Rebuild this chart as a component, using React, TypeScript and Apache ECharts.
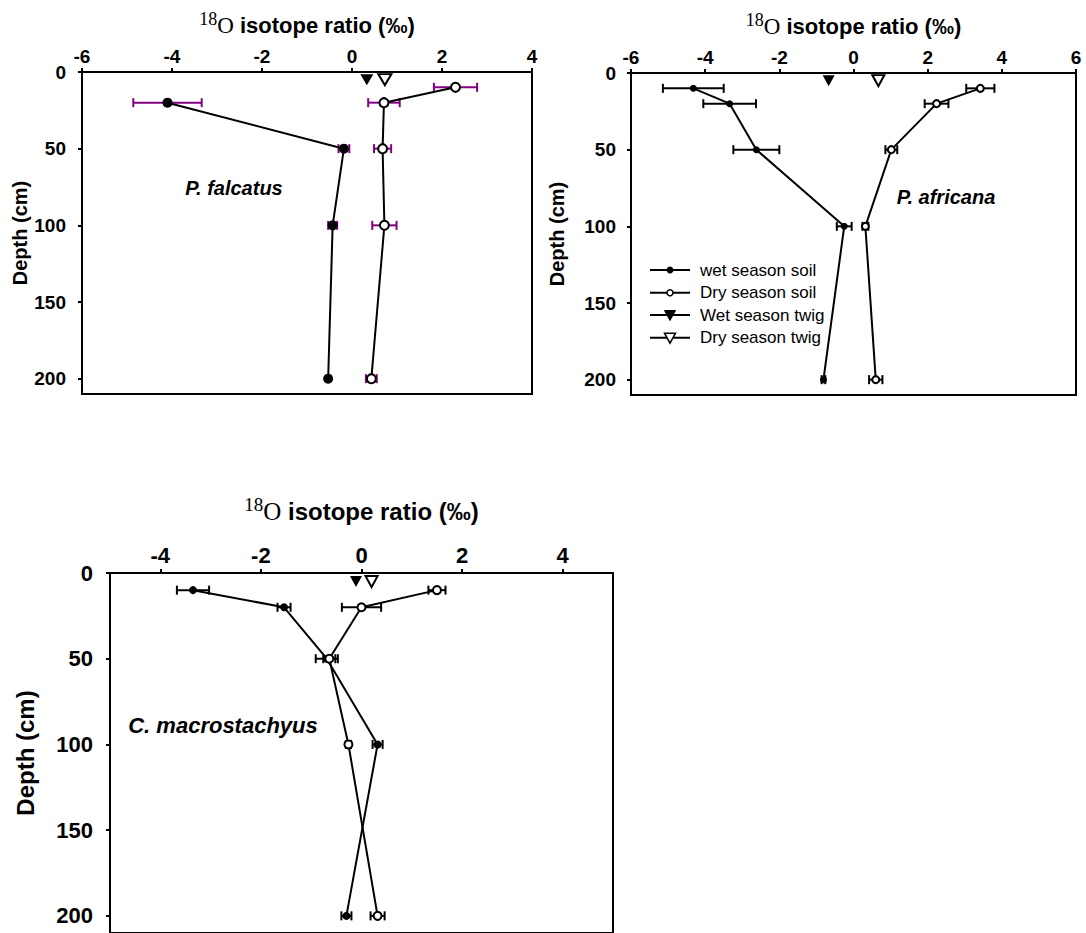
import { useEffect, useRef } from 'react';
import * as echarts from 'echarts';

// Sampling depths (cm) and the depth at which twig values are plotted
const soilDepths = [10, 20, 50, 100, 200];
const twigDepth = 5;
const depthTicks = [0, 50, 100, 150, 200];

// P. falcatus (no wet-season soil sample at 10 cm)
const falcatusWetSoil = [null, -4.1, -0.18, -0.43, -0.53];
const falcatusWetSoilErr = [null, 0.76, 0.12, 0.1, 0];
const falcatusDrySoil = [2.3, 0.71, 0.68, 0.72, 0.43];
const falcatusDrySoilErr = [0.48, 0.35, 0.19, 0.27, 0.12];
const falcatusWetTwig = 0.33;
const falcatusDryTwig = 0.73;
const falcatusTicks = [-6, -4, -2, 0, 2, 4];

// P. africana
const africanaWetSoil = [-4.32, -3.34, -2.62, -0.25, -0.81];
const africanaWetSoilErr = [0.82, 0.71, 0.62, 0.2, 0.05];
const africanaDrySoil = [3.42, 2.24, 1.02, 0.32, 0.6];
const africanaDrySoilErr = [0.38, 0.32, 0.16, 0.08, 0.18];
const africanaWetTwig = -0.67;
const africanaDryTwig = 0.67;
const africanaTicks = [-6, -4, -2, 0, 2, 4, 6];

// C. macrostachyus
const macroWetSoil = [-3.35, -1.54, -0.69, 0.32, -0.3];
const macroWetSoilErr = [0.32, 0.13, 0.22, 0.1, 0.1];
const macroDrySoil = [1.5, 0.0, -0.64, -0.26, 0.32];
const macroDrySoilErr = [0.17, 0.39, 0.12, 0.05, 0.14];
const macroWetTwig = -0.11;
const macroDryTwig = 0.2;
const macroTicks = [-4, -2, 0, 2, 4];

const legendLabels = ['wet season soil', 'Dry season soil', 'Wet season twig', 'Dry season twig'];

const SANS = '"Liberation Sans", Arial, sans-serif';
const SERIF = '"Liberation Serif", "Times New Roman", serif';

type Panel = {
  species: string;
  grid: { left: number; top: number; width: number; height: number };
  xMin: number;
  xMax: number;
  xTicks: number[];
  wet: (number | null)[];
  wetErr: (number | null)[];
  dry: number[];
  dryErr: number[];
  wetTwig: number;
  dryTwig: number;
  errColor: string;
  wetSize: number;
  drySize: number;
  twigSize: number[];
  tickFont: number;
  nameFont: number;
  titleFont: number;
  titleGap: number;
  depthGap: number;
  labelMargin: number;
  xLabelMargin: number;
  speciesFont: number;
  yMax: number;
};

const panels: Panel[] = [
  {
    species: 'P. falcatus',
    grid: { left: 82, top: 72, width: 450, height: 322 },
    xMin: -6, xMax: 4, xTicks: falcatusTicks,
    wet: falcatusWetSoil, wetErr: falcatusWetSoilErr,
    dry: falcatusDrySoil, dryErr: falcatusDrySoilErr,
    wetTwig: falcatusWetTwig, dryTwig: falcatusDryTwig,
    errColor: '#800080', wetSize: 10, drySize: 9, twigSize: [13, 11],
    tickFont: 19, nameFont: 20, titleFont: 22, titleGap: 32, depthGap: 50,
    labelMargin: 16, xLabelMargin: 6, speciesFont: 20, yMax: 210,
  },
  {
    species: 'P. africana',
    grid: { left: 631, top: 73, width: 445, height: 322 },
    xMin: -6, xMax: 6, xTicks: africanaTicks,
    wet: africanaWetSoil, wetErr: africanaWetSoilErr,
    dry: africanaDrySoil, dryErr: africanaDrySoilErr,
    wetTwig: africanaWetTwig, dryTwig: africanaDryTwig,
    errColor: '#000', wetSize: 7, drySize: 7, twigSize: [12, 11],
    tickFont: 19, nameFont: 20, titleFont: 22, titleGap: 32, depthGap: 64,
    labelMargin: 15, xLabelMargin: 6, speciesFont: 20, yMax: 210,
  },
  {
    species: 'C. macrostachyus',
    grid: { left: 110, top: 573, width: 503, height: 362 },
    xMin: -5, xMax: 5, xTicks: macroTicks,
    wet: macroWetSoil, wetErr: macroWetSoilErr,
    dry: macroDrySoil, dryErr: macroDrySoilErr,
    wetTwig: macroWetTwig, dryTwig: macroDryTwig,
    errColor: '#000', wetSize: 8, drySize: 8, twigSize: [12, 11],
    tickFont: 22, nameFont: 24, titleFont: 24, titleGap: 46, depthGap: 73,
    labelMargin: 17, xLabelMargin: 7, speciesFont: 22, yMax: 210,
  },
];

const speciesLabelPos = [
  { x: 234, y: 188 },
  { x: 946, y: 197 },
  { x: 223, y: 725 },
];

function errorBarSeries(idx: number, means: (number | null)[], errs: (number | null)[], color: string) {
  const data: number[][] = [];
  soilDepths.forEach((d, i) => {
    const m = means[i];
    const e = errs[i];
    if (m == null || e == null || e <= 0) return;
    data.push([m - e, m + e, d]);
  });
  return {
    type: 'custom',
    xAxisIndex: idx,
    yAxisIndex: idx,
    z: 1,
    silent: true,
    encode: { x: [0, 1], y: 2 },
    data,
    renderItem: (_params: any, api: any) => {
      const lo = api.coord([api.value(0), api.value(2)]);
      const hi = api.coord([api.value(1), api.value(2)]);
      const h = 4.5;
      const style = { stroke: color, lineWidth: 2 };
      return {
        type: 'group',
        children: [
          { type: 'line', shape: { x1: lo[0], y1: lo[1], x2: hi[0], y2: hi[1] }, style },
          { type: 'line', shape: { x1: lo[0], y1: lo[1] - h, x2: lo[0], y2: lo[1] + h }, style },
          { type: 'line', shape: { x1: hi[0], y1: hi[1] - h, x2: hi[0], y2: hi[1] + h }, style },
        ],
      };
    },
  };
}

function profile(values: (number | null)[]) {
  const pts: number[][] = [];
  soilDepths.forEach((d, i) => {
    const v = values[i];
    if (v != null) pts.push([v, d]);
  });
  return pts;
}

function buildOption() {
  const grid: any[] = [];
  const xAxis: any[] = [];
  const yAxis: any[] = [];
  const series: any[] = [];

  panels.forEach((p, idx) => {
    grid.push({ ...p.grid, show: true, borderColor: '#000', borderWidth: 2, backgroundColor: 'transparent' });
    xAxis.push({
      gridIndex: idx,
      type: 'value',
      position: 'top',
      min: p.xMin,
      max: p.xMax,
      axisLine: { show: true, onZero: false, lineStyle: { color: '#000', width: 2 } },
      axisTick: { show: true, inside: false, length: 4, customValues: p.xTicks, lineStyle: { color: '#000', width: 2 } },
      axisLabel: {
        customValues: p.xTicks,
        margin: p.xLabelMargin,
        color: '#000',
        fontFamily: SANS,
        fontWeight: 'bold',
        fontSize: p.tickFont,
      },
      splitLine: { show: false },
      name: '{n|18}{o|O}{t| isotope ratio (‰)}',
      nameLocation: 'middle',
      nameGap: p.titleGap,
      nameTextStyle: {
        rich: {
          n: { fontFamily: SERIF, fontSize: Math.round(p.titleFont * 0.8), color: '#000', padding: [0, 0, Math.round(p.titleFont * 0.55), 0] },
          o: { fontFamily: SERIF, fontSize: p.titleFont + 1, color: '#000' },
          t: { fontFamily: SANS, fontWeight: 'bold', fontSize: p.titleFont, color: '#000' },
        },
      },
    });
    yAxis.push({
      gridIndex: idx,
      type: 'value',
      inverse: true,
      min: 0,
      max: p.yMax,
      axisLine: { show: true, onZero: false, lineStyle: { color: '#000', width: 2 } },
      axisTick: { show: true, inside: false, length: 4, customValues: depthTicks, lineStyle: { color: '#000', width: 2 } },
      axisLabel: {
        customValues: depthTicks,
        margin: p.labelMargin,
        color: '#000',
        fontFamily: SANS,
        fontWeight: 'bold',
        fontSize: p.tickFont,
      },
      splitLine: { show: false },
      name: 'Depth (cm)',
      nameLocation: 'middle',
      nameGap: p.depthGap,
      nameTextStyle: { fontFamily: SANS, fontWeight: 'bold', fontSize: p.nameFont, color: '#000' },
    });

    series.push(errorBarSeries(idx, p.wet, p.wetErr, p.errColor));
    series.push(errorBarSeries(idx, p.dry, p.dryErr, p.errColor));

    series.push({
      name: legendLabels[0],
      type: 'line',
      xAxisIndex: idx,
      yAxisIndex: idx,
      z: 3,
      data: profile(p.wet),
      symbol: 'circle',
      symbolSize: p.wetSize,
      itemStyle: { color: '#000' },
      lineStyle: { color: '#000', width: 2 },
    });
    series.push({
      name: legendLabels[1],
      type: 'line',
      xAxisIndex: idx,
      yAxisIndex: idx,
      z: 3,
      data: profile(p.dry),
      symbol: 'circle',
      symbolSize: p.drySize,
      itemStyle: { color: '#fff', borderColor: '#000', borderWidth: 2 },
      lineStyle: { color: '#000', width: 2 },
    });
    series.push({
      name: legendLabels[2],
      type: 'line',
      xAxisIndex: idx,
      yAxisIndex: idx,
      z: 4,
      data: [[p.wetTwig, twigDepth]],
      symbol: 'triangle',
      symbolRotate: 180,
      symbolSize: p.twigSize,
      itemStyle: { color: '#000' },
      lineStyle: { color: '#000', width: 2 },
    });
    series.push({
      name: legendLabels[3],
      type: 'line',
      xAxisIndex: idx,
      yAxisIndex: idx,
      z: 4,
      data: [[p.dryTwig, twigDepth]],
      symbol: 'triangle',
      symbolRotate: 180,
      symbolSize: p.twigSize,
      itemStyle: { color: '#fff', borderColor: '#000', borderWidth: 2 },
      lineStyle: { color: '#000', width: 2 },
    });
  });

  // Species names inside each panel
  const graphic: any[] = panels.map((p, i) => ({
    type: 'text',
    x: speciesLabelPos[i].x,
    y: speciesLabelPos[i].y,
    z: 10,
    style: {
      text: p.species,
      fill: '#000',
      fontFamily: SANS,
      fontWeight: 'bold',
      fontStyle: 'italic',
      fontSize: p.speciesFont,
      align: 'center',
      verticalAlign: 'middle',
    },
  }));

  // Legend drawn inside the P. africana panel
  const legendX = 650;
  const legendY = [270, 292.7, 315, 337.7];
  legendLabels.forEach((label, i) => {
    const y = legendY[i];
    const cx = legendX + 20;
    graphic.push({ type: 'line', z: 10, shape: { x1: legendX, y1: y, x2: legendX + 40, y2: y }, style: { stroke: '#000', lineWidth: 2 } });
    if (i === 0) {
      graphic.push({ type: 'circle', z: 11, shape: { cx, cy: y, r: 3.5 }, style: { fill: '#000' } });
    } else if (i === 1) {
      graphic.push({ type: 'circle', z: 11, shape: { cx, cy: y, r: 3 }, style: { fill: '#fff', stroke: '#000', lineWidth: 1.5 } });
    } else {
      graphic.push({
        type: 'polygon',
        z: 11,
        shape: { points: [[cx - 5.5, y - 4.5], [cx + 5.5, y - 4.5], [cx, y + 5.5]] },
        style: i === 2 ? { fill: '#000', stroke: '#000', lineWidth: 1 } : { fill: '#fff', stroke: '#000', lineWidth: 1.5 },
      });
    }
    graphic.push({
      type: 'text',
      z: 11,
      x: legendX + 50,
      y,
      style: { text: label, fill: '#000', fontFamily: SANS, fontSize: 17, align: 'left', verticalAlign: 'middle' },
    });
  });

  return {
    animation: false,
    backgroundColor: '#fff',
    grid,
    xAxis,
    yAxis,
    series,
    graphic,
  };
}

export default function App() {
  const ref = useRef<HTMLDivElement>(null);
  useEffect(() => {
    if (!ref.current) return;
    const chart = echarts.init(ref.current, undefined, { renderer: 'svg' });
    chart.setOption(buildOption() as any);
    return () => chart.dispose();
  }, []);
  return (
    <div
      ref={ref}
      style={{ position: 'fixed', left: 0, top: 0, width: 1086, height: 933, background: '#fff' }}
    />
  );
}
